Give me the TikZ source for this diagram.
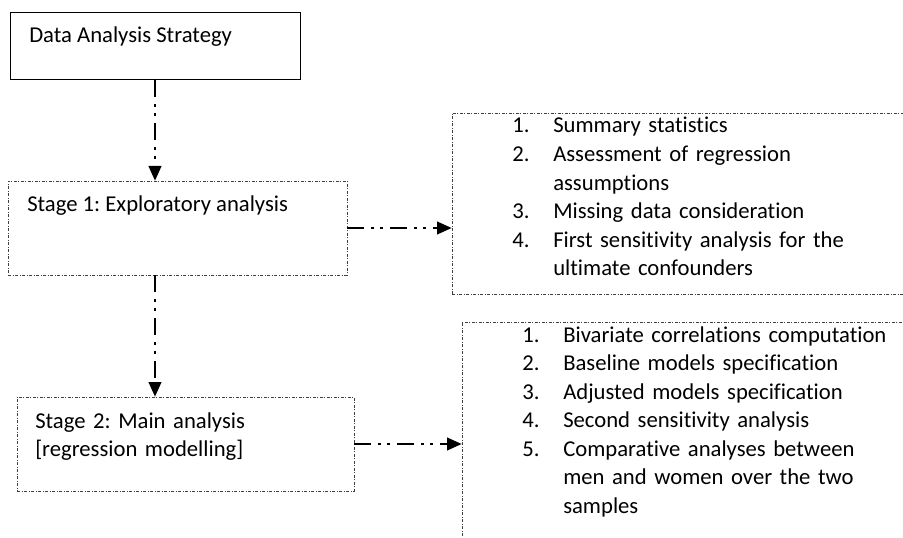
\documentclass[tikz,border=0pt]{standalone}
\usepackage{fontspec}
\setmainfont{Carlito}[Ligatures=NoCommon]
\usetikzlibrary{arrows.meta}
\frenchspacing

\newcommand{\numitem}[1]{\makebox[30.75pt][l]{#1}}

\tikzset{
  plainbox/.style={draw, line width=0.75pt, inner sep=0pt},
  panel/.style={draw=black!75, line width=0.5pt, inner sep=0pt,
    dash pattern=on 2.5pt off 1pt on 0.75pt off 1pt},
  flow/.style={line width=1.5pt,
    dash pattern=on 12.75pt off 5.25pt on 2.25pt off 4.5pt on 2.25pt off 5.25pt,
    -{Triangle[length=11pt,width=9.5pt]}},
  txt/.style={inner sep=0pt, anchor=base west, font=\fontsize{17}{21.4}\selectfont}
}

\begin{document}
\begin{tikzpicture}[x=0.75pt,y=0.75pt,yscale=-1,xscale=1]
\useasboundingbox (0,0) rectangle (903,538);
\clip (0,0) rectangle (903,538);

% boxes
\node (das) [plainbox, minimum width=217.5pt, minimum height=50.25pt] at (155,46.5) {};
\node (stage1) [panel, minimum width=254.25pt, minimum height=70.5pt] at (177.5,228) {};
\node (stage2) [panel, minimum width=252.75pt, minimum height=70.5pt] at (185.5,444) {};
\node (sumbox) [panel, minimum width=351pt, minimum height=135.75pt] at (686,203.5) {};
\node (mainbox) [panel, minimum width=343.5pt, minimum height=178.5pt] at (691,441) {};

% Text Node
\node (dastxt) [txt] at (29,43) {Data Analysis Strategy};
\node (s1txt) [txt] at (27,212) {Stage 1: Exploratory analysis};
\node (s2txt) [txt, text width=240pt, align=left] at (35,428) {Stage 2: Main analysis\\{}[regression modelling]};

\node (sumlist) [txt, text width=300pt, align=left] at (512,133) {\numitem{1.}Summary statistics\\
  \numitem{2.}Assessment of regression\\
  \numitem{}assumptions\\
  \numitem{3.}Missing data consideration\\
  \numitem{4.}First sensitivity analysis for the\\
  \numitem{}ultimate confounders};

\node (mainlist) [txt, text width=300pt, align=left] at (522,342) {\numitem{1.}Bivariate correlations computation\\
  \numitem{2.}Baseline models specification\\
  \numitem{3.}Adjusted models specification\\
  \numitem{4.}Second sensitivity analysis\\
  \numitem{5.}Comparative analyses between\\
  \numitem{}men and women over the two\\
  \numitem{}samples};

% Arrows
\draw [flow] (das.south) -- (das.south |- stage1.north);
\draw [flow] (stage1.south -| das.south) -- (stage2.north -| das.south);
\draw [flow] (stage1.east) -- (stage1.east -| sumbox.west);
\draw [flow] (stage2.east) -- (stage2.east -| mainbox.west);

\end{tikzpicture}
\end{document}
